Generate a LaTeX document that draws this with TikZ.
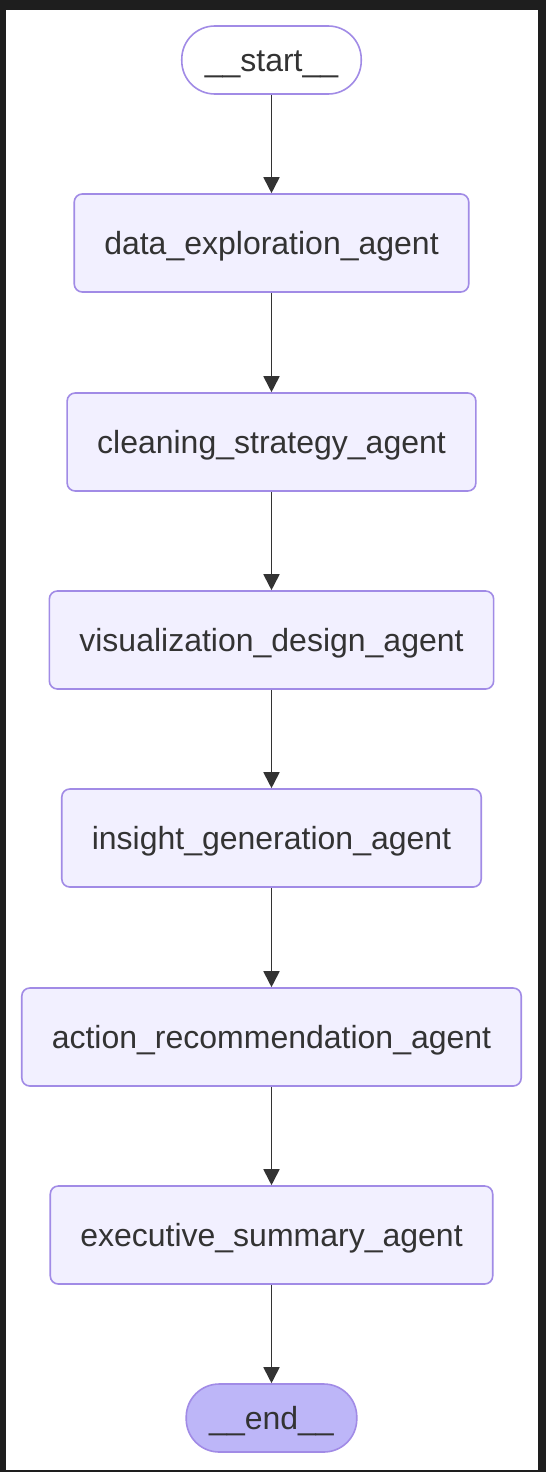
\documentclass[tikz,border=0pt]{standalone}
\usepackage{fontspec}
\setmainfont{Liberation Sans}
\usepackage{tikz}
\usetikzlibrary{shapes.geometric,arrows.meta}
\definecolor{framegray}{HTML}{1E1E1E}
\definecolor{nodefill}{HTML}{F2F0FF}
\definecolor{nodeline}{HTML}{A18BE6}
\definecolor{endfill}{HTML}{BDB6F8}
\definecolor{textgray}{HTML}{333333}
\tikzstyle{agent} = [rectangle, rounded corners=8pt, text centered, line width=1.6pt, draw=nodeline, fill=nodefill, text=textgray, font=\fontsize{32}{38}\selectfont, inner xsep=30pt, minimum height=98pt, text height=22pt, text depth=0pt]
\tikzstyle{term} = [rectangle, rounded corners=33pt, text centered, line width=1.6pt, draw=nodeline, text=textgray, font=\fontsize{32}{38}\selectfont, inner xsep=23pt, minimum height=68pt, text height=22pt, text depth=0pt]
\tikzstyle{term_end} = [term, fill=endfill]
\tikzstyle{edge} = [line width=1.8pt, draw=textgray, -{Triangle[length=16pt,width=16pt]}]

\begin{document}
\begin{tikzpicture}[x=1pt,y=-1pt]
    \fill[framegray] (0,0) rectangle (546,1472);
    \fill[white] (6,10) rectangle (538,1469.5);
    \node (start) [term, fill=white] at (271.5,60) {\_\_start\_\_};
    \node (DataExp) [agent] at (271.5,243) {data\_exploration\_agent};
    \node (Cleaning) [agent] at (271.5,442) {cleaning\_strategy\_agent};
    \node (VisDesign) [agent] at (271.5,640) {visualization\_design\_agent};
    \node (Insight) [agent] at (271.5,838) {insight\_generation\_agent};
    \node (ActionRec) [agent] at (271.5,1037) {action\_recommendation\_agent};
    \node (ExecSum) [agent] at (271.5,1235) {executive\_summary\_agent};
    \node (end) [term_end] at (271.5,1418) {\_\_end\_\_};
    \draw[edge] (start) -- (DataExp);
    \draw[edge] (DataExp) -- (Cleaning);
    \draw[edge] (Cleaning) -- (VisDesign);
    \draw[edge] (VisDesign) -- (Insight);
    \draw[edge] (Insight) -- (ActionRec);
    \draw[edge] (ActionRec) -- (ExecSum);
    \draw[edge] (ExecSum) -- (end);
\end{tikzpicture}
\end{document}
